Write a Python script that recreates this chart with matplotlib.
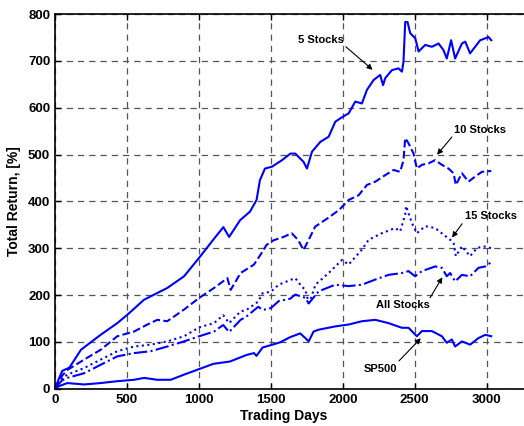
import matplotlib
matplotlib.use("Agg")
import matplotlib.pyplot as plt

# values (trading day, total return in %)
days_5 = [0, 25, 50, 100, 180, 317, 433, 503, 619, 780, 897, 1003, 1105, 1170, 1210, 1287,
          1355, 1401, 1424, 1459, 1508, 1578, 1636, 1670, 1728, 1751, 1786, 1844, 1902, 1948,
          2002, 2041, 2087, 2133, 2168, 2214, 2260, 2280, 2295, 2341, 2387, 2411, 2422, 2434,
          2450, 2469, 2504, 2527, 2573, 2619, 2666, 2700, 2723, 2753, 2781, 2828, 2851, 2885,
          2920, 2955, 2990, 3013, 3032]
ret_5 = [0, 20, 38, 45, 83, 115, 140, 158, 190, 215, 240, 280, 320, 345, 324, 360,
         378, 403, 445, 470, 474, 488, 502, 502, 484, 470, 506, 527, 538, 570,
         581, 588, 613, 609, 638, 659, 670, 648, 663, 680, 684, 677, 698, 783,
         783, 759, 748, 720, 734, 730, 737, 723, 705, 744, 705, 737, 741, 716,
         730, 744, 748, 751, 744]

days_10 = [0, 25, 50, 86, 202, 317, 433, 549, 642, 711, 780, 897, 1003, 1105, 1198, 1221,
           1290, 1383, 1443, 1470, 1520, 1588, 1645, 1691, 1727, 1762, 1808, 1900, 1972, 2041,
           2110, 2168, 2226, 2295, 2353, 2399, 2422, 2434, 2457, 2492, 2515, 2550, 2596, 2642,
           2689, 2735, 2770, 2786, 2828, 2874, 2920, 2967, 3032]
ret_10 = [0, 15, 28, 40, 62, 83, 112, 122, 137, 147, 144, 169, 194, 215, 236, 211,
          247, 265, 293, 307, 317, 324, 332, 317, 296, 317, 346, 365, 381, 403,
          413, 435, 442, 456, 467, 463, 488, 535, 524, 502, 470, 478, 481, 488,
          478, 470, 460, 435, 460, 442, 453, 463, 465]

days_15 = [0, 25, 50, 86, 202, 317, 433, 549, 665, 780, 897, 1003, 1105, 1169, 1210, 1290,
           1330, 1413, 1443, 1500, 1555, 1634, 1670, 1715, 1740, 1763, 1772, 1810, 1902, 1995,
           2041, 2133, 2180, 2272, 2365, 2399, 2434, 2440, 2480, 2515, 2573, 2642, 2700, 2746,
           2770, 2786, 2828, 2885, 2932, 2978, 3032]
ret_15 = [0, 12, 22, 30, 44, 62, 80, 90, 94, 101, 112, 131, 140, 157, 140, 165,
          168, 186, 204, 207, 222, 232, 236, 218, 211, 183, 186, 222, 247, 275,
          265, 297, 318, 332, 343, 336, 372, 390, 354, 332, 347, 343, 329, 318,
          311, 283, 304, 283, 300, 304, 300]

days_all = [0, 25, 50, 86, 202, 317, 433, 549, 665, 780, 897, 1003, 1105, 1169, 1210, 1290,
            1330, 1413, 1443, 1500, 1555, 1634, 1670, 1740, 1763, 1833, 1948, 2041, 2133, 2226,
            2318, 2411, 2457, 2503, 2550, 2642, 2689, 2723, 2746, 2781, 2828, 2885, 2943, 2990,
            3032]
ret_all = [0, 10, 18, 23, 33, 51, 69, 76, 80, 90, 101, 112, 122, 136, 121, 147,
           154, 175, 168, 172, 187, 192, 201, 194, 182, 208, 222, 219, 222, 233,
           243, 247, 251, 240, 251, 261, 258, 240, 247, 229, 243, 240, 258, 261,
           270]

days_sp = [0, 25, 50, 86, 202, 317, 433, 549, 619, 711, 804, 897, 1003, 1100, 1216, 1331,
           1383, 1400, 1443, 1500, 1565, 1634, 1704, 1740, 1763, 1797, 1833, 1948, 2041, 2133,
           2226, 2318, 2411, 2457, 2515, 2550, 2619, 2689, 2723, 2758, 2781, 2828, 2885, 2943,
           2990, 3032]
ret_sp = [0, 5, 8, 12, 9, 12, 16, 19, 23, 19, 19, 30, 42, 53, 58, 72,
          76, 70, 88, 93, 99, 110, 118, 108, 101, 122, 126, 133, 137, 144,
          147, 140, 130, 130, 112, 123, 123, 112, 98, 105, 90, 101, 94, 108,
          115, 112]

# label text, alignment, text position, arrow start, arrow tip
labels = [
    ("5 Stocks", "right", (2005, 744), (2007, 734), (2222, 677)),
    ("10 Stocks", "left", (2775, 552), (2771, 542), (2643, 495)),
    ("15 Stocks", "left", (2850, 369), (2841, 357), (2748, 318)),
    ("All Stocks", "center", (2420, 178), (2597, 189), (2702, 243)),
    ("SP500", "center", (2265, 43), (2377, 55), (2556, 112)),
]

plt.rcParams["font.family"] = ["Liberation Sans", "DejaVu Sans"]
plt.rcParams["font.weight"] = "bold"

fig = plt.figure(figsize=(5.24, 4.26), dpi=100)
ax = fig.add_axes([0.105, 0.0876, 0.961, 0.8795])

blue = "#0000ff"
lw = 1.5
ax.plot(days_5, ret_5, color=blue, lw=lw, ls="-")
ax.plot(days_10, ret_10, color=blue, lw=lw, ls="--")
ax.plot(days_15, ret_15, color=blue, lw=lw, ls=":")
ax.plot(days_all, ret_all, color=blue, lw=lw, ls="-.")
ax.plot(days_sp, ret_sp, color=blue, lw=lw, ls="-")

for txt, ha, tpos, start, tip in labels:
    ax.text(tpos[0], tpos[1], txt, fontsize=8, fontweight="bold", ha=ha, va="center")
    ax.annotate("", xy=tip, xytext=start,
                arrowprops=dict(arrowstyle="-|>", color="black", lw=0.8, mutation_scale=8))

ax.set_xlim(0, 3500)
ax.set_ylim(0, 800)
ax.set_xticks(range(0, 3001, 500))
ax.set_yticks(range(0, 801, 100))
ax.tick_params(direction="in", top=True, right=True, labelsize=9.5, length=4, width=1)
for lab in ax.get_xticklabels() + ax.get_yticklabels():
    lab.set_fontweight("bold")

ax.grid(True, color="#555555", ls=(0, (5, 4)), lw=0.9)
for s in ax.spines.values():
    s.set_linewidth(1.2)

ax.set_xlabel("Trading Days", fontsize=10, fontweight="bold")
ax.set_ylabel("Total Return, [%]", fontsize=10, fontweight="bold")
ax.xaxis.set_label_coords(0.455, -0.055)
ax.yaxis.set_label_coords(-0.067, 0.5)

fig.savefig("out.png", dpi=100)
